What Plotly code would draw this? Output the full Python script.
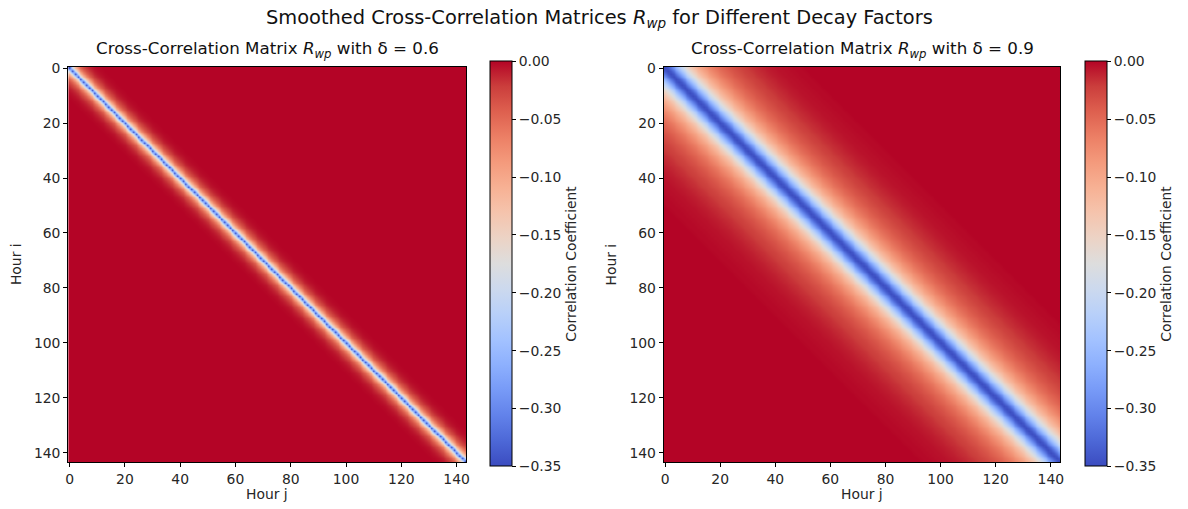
import numpy as np
import plotly.graph_objects as go

# Hour indices (144 hours)
hours = list(range(144))
tick_vals = [0, 20, 40, 60, 80, 100, 120, 140]
cbar_vals = [0.0, -0.05, -0.10, -0.15, -0.20, -0.25, -0.30, -0.35]
cbar_text = ["0.00", "\u22120.05", "\u22120.10", "\u22120.15", "\u22120.20", "\u22120.25", "\u22120.30", "\u22120.35"]

# Correlation vs. hour lag |i - j| (beyond the listed lags the value is 0)
lag_profile_06 = [-0.350, -0.190, -0.120, -0.075, -0.048, -0.030, -0.019,
                  -0.012, -0.007, -0.004, -0.002, -0.001]
lag_profile_09 = [-0.350, -0.340, -0.318, -0.290, -0.260, -0.232, -0.206, -0.183,
                  -0.163, -0.146, -0.131, -0.118, -0.107, -0.097, -0.088, -0.080,
                  -0.073, -0.066, -0.060, -0.055, -0.050, -0.046, -0.042, -0.038,
                  -0.035, -0.032, -0.029, -0.026, -0.024, -0.022, -0.020, -0.018,
                  -0.016, -0.015, -0.013, -0.012, -0.010, -0.009, -0.008, -0.007,
                  -0.006, -0.005, -0.005, -0.004, -0.004, -0.003, -0.003, -0.002,
                  -0.002, -0.002, -0.001]
deltas = ["0.6", "0.9"]


def toeplitz(profile, n):
    lag = np.abs(np.subtract.outer(np.arange(n), np.arange(n)))
    vals = np.zeros(n)
    vals[:len(profile)] = profile
    return vals[lag]


# matplotlib "coolwarm"
coolwarm = [
    (0.0, (0.2298, 0.2987, 0.7537)), (0.0625, (0.3039, 0.4065, 0.8450)),
    (0.125, (0.3830, 0.5094, 0.9174)), (0.1875, (0.4667, 0.6046, 0.9682)),
    (0.25, (0.5530, 0.6889, 0.9954)), (0.3125, (0.6392, 0.7596, 0.9982)),
    (0.375, (0.7222, 0.8140, 0.9766)), (0.4375, (0.7987, 0.8498, 0.9317)),
    (0.5, (0.8654, 0.8654, 0.8654)), (0.5625, (0.9241, 0.8274, 0.7745)),
    (0.625, (0.9589, 0.7698, 0.6782)), (0.6875, (0.9700, 0.6943, 0.5807)),
    (0.75, (0.9580, 0.6028, 0.4859)), (0.8125, (0.9239, 0.4973, 0.3956)),
    (0.875, (0.8692, 0.3783, 0.3112)), (0.9375, (0.7956, 0.2413, 0.2334)),
    (1.0, (0.7057, 0.0156, 0.1502)),
]
colorscale = [[p, "rgb(%d,%d,%d)" % tuple(round(c * 255) for c in rgb)] for p, rgb in coolwarm]

W, H = 1188, 509
FONT = "DejaVu Sans"
TICK = 13.9
TXT = "#262626"


def px_x(v):
    return v / W


def px_y(v):
    return 1 - v / H


panels = [
    dict(x0=65.6, x1=466.0, cb=490),
    dict(x0=664.6, x1=1063.7, cb=1088),
]
top, bottom = 60.6, 461.7

fig = go.Figure()
for k, (prof, d, pnl) in enumerate(zip([lag_profile_06, lag_profile_09], deltas, panels)):
    z = toeplitz(prof, len(hours))
    sfx = "" if k == 0 else "2"
    fig.add_trace(go.Heatmap(
        z=z, x=hours, y=hours, xaxis="x" + sfx, yaxis="y" + sfx,
        colorscale=colorscale, zmin=-0.35, zmax=0.0, zsmooth="best",
        colorbar=dict(
            x=px_x(pnl["cb"]), xanchor="left", xpad=0, ypad=0,
            y=px_y((55 + 466) / 2), yanchor="middle",
            len=411 / H, lenmode="fraction", thickness=22, thicknessmode="pixels",
            outlinewidth=1, outlinecolor="black",
            ticks="outside", ticklen=4, tickcolor="black",
            tickvals=cbar_vals, ticktext=cbar_text,
            tickfont=dict(family=FONT, size=TICK, color=TXT),
            title=dict(text="Correlation Coefficient", side="right",
                       font=dict(family=FONT, size=TICK, color=TXT)),
        ),
        hovertemplate="i=%{y}, j=%{x}: %{z:.3f}<extra></extra>",
    ))
    axis_common = dict(
        showgrid=False, zeroline=False, showline=True, linecolor="black", linewidth=1,
        mirror=True, ticks="outside", ticklen=4, tickcolor="black",
        tickvals=tick_vals, tickfont=dict(family=FONT, size=TICK, color=TXT),
    )
    fig.layout["xaxis" + sfx] = dict(
        axis_common, domain=[px_x(pnl["x0"]), px_x(pnl["x1"])], range=[-0.5, 143.5],
        anchor="y" + sfx,
    )
    fig.layout["yaxis" + sfx] = dict(
        axis_common, domain=[px_y(bottom), px_y(top)], range=[143.5, -0.5],
        anchor="x" + sfx,
    )
    cx = (pnl["x0"] + pnl["x1"]) / 2
    fig.add_annotation(
        text="Cross-Correlation Matrix <i>R</i><sub><i>wp</i></sub> with \u03b4 = " + d,
        x=px_x(cx), y=px_y(43), xref="paper", yref="paper", showarrow=False,
        xanchor="center", yanchor="middle", font=dict(family=FONT, size=16.7, color="#111"),
    )
    fig.add_annotation(
        text="Hour j", x=px_x(cx), y=px_y(494), xref="paper", yref="paper", showarrow=False,
        xanchor="center", yanchor="middle", font=dict(family=FONT, size=TICK, color=TXT),
    )
    fig.add_annotation(
        text="Hour i", x=px_x(pnl["x0"] - 53), y=px_y((top + bottom) / 2), xref="paper",
        yref="paper", showarrow=False, textangle=-90, xanchor="center", yanchor="middle",
        font=dict(family=FONT, size=TICK, color=TXT),
    )

fig.add_annotation(
    text="Smoothed Cross-Correlation Matrices <i>R</i><sub><i>wp</i></sub> for Different Decay Factors",
    x=px_x(600), y=px_y(12), xref="paper", yref="paper", showarrow=False,
    xanchor="center", yanchor="middle", font=dict(family=FONT, size=19.4, color="#111"),
)

fig.update_layout(
    width=W, height=H, margin=dict(l=0, r=0, t=0, b=0),
    paper_bgcolor="white", plot_bgcolor="white", showlegend=False,
)

fig.write_html("out.html")
